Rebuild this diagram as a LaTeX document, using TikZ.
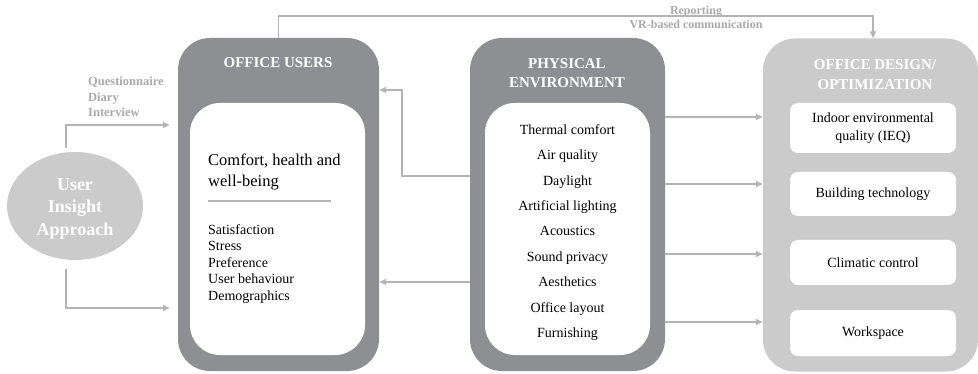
\documentclass[tikz,border=0pt]{standalone}
\usepackage{fontspec}
\setmainfont{Liberation Serif}
\usetikzlibrary{arrows.meta,shapes.geometric}
\definecolor{dark}{HTML}{8E8F92}
\definecolor{light}{HTML}{CBCBCC}
\definecolor{conn}{HTML}{B4B4B6}
\definecolor{lbl}{HTML}{A9A9AB}
\tikzset{
  bigbox/.style={fill=#1, rounded corners=32pt, inner sep=0pt, minimum width=201pt, minimum height=333pt},
  innerbox/.style={fill=white, rounded corners=30pt, inner sep=0pt, minimum height=252pt},
  smallbox/.style={fill=white, rounded corners=8pt, inner sep=0pt, minimum width=166pt, align=center, font=\fontsize{14}{18}\selectfont},
  titletext/.style={text=white, align=center, inner sep=0pt},
  conline/.style={draw=conn, line width=1.8pt, -{Triangle[length=7pt,width=6pt]}},
  lbltext/.style={text=lbl, inner sep=0pt, font=\bfseries\fontsize{12}{14}\selectfont}
}
\begin{document}
\begin{tikzpicture}[x=1pt,y=-1pt]
\useasboundingbox (0,0) rectangle (978,374);
% Office users
\node[bigbox=dark] (ou) at (278.5,204.5) {};
\node[innerbox, minimum width=175pt] (oui) at (277.5,229) {};
\node[titletext, font=\bfseries\fontsize{15}{17}\selectfont] (out) at (278,63) {OFFICE USERS};
\node[anchor=west, align=left, inner sep=0pt, font=\fontsize{16.5}{21}\selectfont] (comf) at (208,172) {Comfort, health and\\well-being};
\draw[draw=conn, line width=1.5pt] (208,201) -- (331,201);
\node[anchor=west, align=left, inner sep=0pt, font=\fontsize{14}{16.5}\selectfont] (oulist) at (208,264) {Satisfaction\\Stress\\Preference\\User behaviour\\Demographics};
% Physical environment
\node[bigbox=dark, minimum width=195pt] (pe) at (567.5,204.5) {};
\node[innerbox, minimum width=165pt] (pei) at (567.5,229) {};
\node[titletext, font=\bfseries\fontsize{15}{19}\selectfont] (pet) at (567,73) {PHYSICAL\\ENVIRONMENT};
\node[align=center, inner sep=0pt, font=\fontsize{14}{25.4}\selectfont] (pelist) at (567.5,232.5) {Thermal comfort\\Air quality\\Daylight\\Artificial lighting\\Acoustics\\Sound privacy\\Aesthetics\\Office layout\\Furnishing};
% Office design
\node[bigbox=light, minimum width=215pt] (od) at (870.5,205) {};
\node[titletext, font=\bfseries\fontsize{15}{20}\selectfont] (odt) at (875,74.5) {OFFICE DESIGN/\\OPTIMIZATION};
\node[smallbox, minimum height=50pt] (od1) at (873,128) {Indoor environmental\\quality (IEQ)};
\node[smallbox, minimum height=44pt] (od2) at (873,194) {Building technology};
\node[smallbox, minimum height=45pt] (od3) at (873,262.5) {Climatic control};
\node[smallbox, minimum height=46pt] (od4) at (873,333) {Workspace};
% User insight approach
\node[ellipse, fill=light, inner sep=0pt, minimum width=136pt, minimum height=108pt] (uia) at (75,206) {};
\node[text=white, align=center, inner sep=0pt, font=\bfseries\fontsize{18}{22.5}\selectfont] (uiat) at (75,209) {User\\Insight\\Approach};
% labels
\node[lbltext, anchor=west, align=left, font=\bfseries\fontsize{12.5}{15.5}\selectfont] (qdi) at (88,97) {Questionnaire\\Diary\\Interview};
\node[lbltext, align=center] (rep) at (696,17.5) {Reporting\\VR-based communication};
% connectors
\draw[conline, shorten >=8pt] ([shift={(-9pt,4pt)}]uia.north) |- ([yshift=79.5pt]ou.west);
\draw[conline, shorten >=8pt] ([shift={(-9pt,-9pt)}]uia.south) |- ([yshift=-103.5pt]ou.west);
\draw[conline] ([yshift=28.5pt]pe.west) -- ++(-68pt,0pt) |- ([yshift=114.5pt]ou.east);
\draw[conline] ([yshift=-77.5pt]pe.west) -- ([yshift=-77.5pt]ou.east);
\draw[conline] ([yshift=87.5pt]pe.east) -- ([yshift=87.5pt]pe.east -| od.west);
\draw[conline] ([yshift=20.5pt]pe.east) -- ([yshift=20.5pt]pe.east -| od.west);
\draw[conline] ([yshift=-49.5pt]pe.east) -- ([yshift=-49.5pt]pe.east -| od.west);
\draw[conline] ([yshift=-117.5pt]pe.east) -- ([yshift=-117.5pt]pe.east -| od.west);
\draw[conline] (ou.north) -- ++(0pt,22pt) -| ([xshift=2.5pt]od.north);
\end{tikzpicture}
\end{document}
